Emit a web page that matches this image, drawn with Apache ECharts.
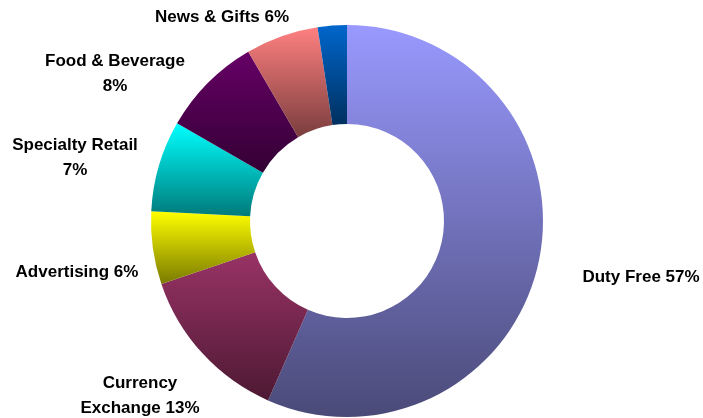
<!DOCTYPE html>
<html><head><meta charset="utf-8">
<script src="https://cdn.jsdelivr.net/npm/echarts@6/dist/echarts.min.js"></script>
<style>html,body{margin:0;padding:0;background:#fff}#c{width:703px;height:418px}</style>
</head><body><div id="c"></div>
<script>
const categories = ['Duty Free','Currency Exchange','Advertising','Specialty Retail','Food & Beverage','News & Gifts','Other'];
const values = [56.6, 13.2, 6.0, 7.5, 8.3, 6.0, 2.4];
const labelTexts = ['Duty Free 57%','Currency\nExchange 13%','Advertising 6%','Specialty Retail\n7%','Food & Beverage\n8%','News & Gifts 6%',''];
const topColors = ['#9999FF','#993366','#FFFF00','#00FFFF','#660066','#FF8080','#0066CC'];
const bottomColors = ['#4a4a78','#4d1933','#7a7a00','#007a7a','#330033','#7a3d3d','#00305f'];
const labelXY = [[641,277],[140,396],[77,272],[75,158],[115,74],[222,17],[0,0]];

const chart = echarts.init(document.getElementById('c'), null, {renderer:'canvas'});
const data = categories.map((n,i)=>({
  name:n, value:values[i],
  itemStyle:{color:new echarts.graphic.LinearGradient(0,0,0,1,[{offset:0,color:topColors[i]},{offset:1,color:bottomColors[i]}])},
  label:{show: labelTexts[i] !== ''}
}));
chart.setOption({
  animation:false,
  series:[{
    type:'pie',
    center:[347,221],
    radius:[97,196],
    startAngle:90,
    clockwise:true,
    data:data,
    itemStyle:{borderWidth:0},
    emphasis:{disabled:true},
    label:{
      position:'outside',
      formatter:p=>labelTexts[p.dataIndex],
      fontFamily:'Liberation Sans, Arial, sans-serif',
      fontWeight:'bold',
      fontSize:17,
      lineHeight:25,
      color:'#000',
      align:'center',
      overflow:'none',
      width:200
    },
    labelLine:{show:false},
    labelLayout:function(p){
      const xy = labelXY[p.dataIndex];
      return {x:xy[0], y:xy[1], align:'center', verticalAlign:'middle'};
    }
  }]
});
</script></body></html>
